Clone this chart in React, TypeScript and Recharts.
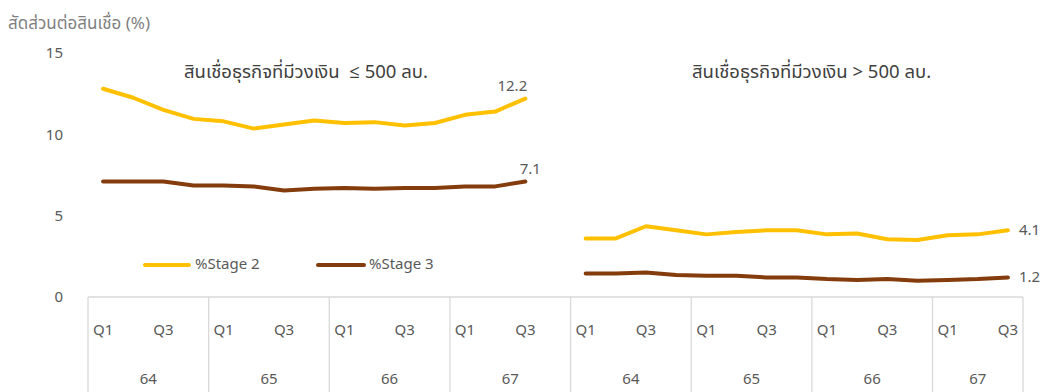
import React from "react";
import { LineChart, Line, XAxis, YAxis, Legend, LabelList } from "recharts";

// ไตรมาส / ปี ของแต่ละจุด (ใช้เหมือนกันทั้งสองกลุ่ม)
const quarters = ["Q1", "Q2", "Q3", "Q4", "Q1", "Q2", "Q3", "Q4", "Q1", "Q2", "Q3", "Q4", "Q1", "Q2", "Q3"];
const years = ["64", "64", "64", "64", "65", "65", "65", "65", "66", "66", "66", "66", "67", "67", "67"];

// วงเงิน <= 500 ลบ.
const smallStage2 = [12.8, 12.25, 11.5, 10.95, 10.8, 10.35, 10.6, 10.85, 10.7, 10.75, 10.55, 10.7, 11.2, 11.4, 12.2];
const smallStage3 = [7.1, 7.1, 7.1, 6.85, 6.85, 6.8, 6.55, 6.65, 6.7, 6.65, 6.7, 6.7, 6.8, 6.8, 7.1];
// วงเงิน > 500 ลบ.
const largeStage2 = [3.6, 3.6, 4.35, 4.1, 3.85, 4.0, 4.1, 4.1, 3.85, 3.9, 3.55, 3.5, 3.8, 3.85, 4.1];
const largeStage3 = [1.45, 1.45, 1.5, 1.35, 1.3, 1.3, 1.2, 1.2, 1.1, 1.05, 1.1, 1.0, 1.05, 1.1, 1.2];

const yTicks = [0, 5, 10, 15];

const YELLOW = "#FFC000";
const BROWN = "#843C0C";
const GRID = "#D9D9D9";
const TEXT = "#595959";
const FONT = "'Noto Sans Thai', 'Leelawadee UI', Tahoma, 'Open Sans', 'Noto Sans', sans-serif";

const W = 1049;
const H = 392;
const LEFT = 88;
const RIGHT = 26;
const SLOTS = 31;
const SLOT = (W - LEFT - RIGHT) / SLOTS;

type Row = {
  key: string;
  panel: string;
  q: string;
  year: string;
  stage2: number | null;
  stage3: number | null;
};

const data: Row[] = [
  ...quarters.map((q, i) => ({
    key: "L" + i,
    panel: "L",
    q,
    year: years[i],
    stage2: smallStage2[i],
    stage3: smallStage3[i],
  })),
  // ช่องว่างระหว่างสองกลุ่ม (Q4/67 ของกลุ่มซ้าย)
  { key: "gap", panel: "L", q: "", year: "67", stage2: null, stage3: null },
  ...quarters.map((q, i) => ({
    key: "R" + i,
    panel: "R",
    q,
    year: years[i],
    stage2: largeStage2[i],
    stage3: largeStage3[i],
  })),
];

const groupSize = (row: Row) =>
  data.filter((d) => d.panel === row.panel && d.year === row.year).length;

const AxisTick = (props: any) => {
  const { x, y, index } = props;
  const row = data[index];
  if (!row) return null;
  const left = x - SLOT / 2;
  return (
    <g>
      {row.q === "Q1" && (
        <>
          <line x1={left} x2={left} y1={y} y2={H} stroke={GRID} strokeWidth={1.3} />
          <text
            x={left + (groupSize(row) * SLOT) / 2}
            y={y + 87}
            textAnchor="middle"
            fill={TEXT}
            fontSize={15}
            fontFamily={FONT}
          >
            {row.year}
          </text>
        </>
      )}
      {index === data.length - 1 && (
        <line x1={x + SLOT / 2} x2={x + SLOT / 2} y1={y} y2={H} stroke={GRID} strokeWidth={1.3} />
      )}
      {(row.q === "Q1" || row.q === "Q3") && (
        <text x={x} y={y + 38} textAnchor="middle" fill={TEXT} fontSize={15} fontFamily={FONT}>
          {row.q}
        </text>
      )}
    </g>
  );
};

const EndLabel = (props: any) => {
  const { x, y, index, value } = props;
  if (value == null) return null;
  const isLeftEnd = index === quarters.length - 1;
  const isRightEnd = index === data.length - 1;
  if (!isLeftEnd && !isRightEnd) return null;
  const txt = Number(value).toFixed(1);
  if (isRightEnd) {
    return (
      <text x={x + 11} y={y + 5} fill={TEXT} fontSize={15} fontFamily={FONT}>
        {txt}
      </text>
    );
  }
  const dx = txt.length > 3 ? -13 : 5;
  return (
    <text x={x + dx} y={y - 8} textAnchor="middle" fill={TEXT} fontSize={15} fontFamily={FONT}>
      {txt}
    </text>
  );
};

const LegendContent = () => (
  <div style={{ display: "flex", alignItems: "center", fontFamily: FONT, fontSize: 15, color: TEXT }}>
    <span style={{ width: 48, height: 4, background: YELLOW, borderRadius: 2, marginRight: 4 }} />
    <span style={{ width: 121 }}>%Stage 2</span>
    <span style={{ width: 50, height: 4, background: BROWN, borderRadius: 2, marginRight: 3 }} />
    <span>%Stage 3</span>
  </div>
);

export default function App() {
  return (
    <div style={{ position: "absolute", left: 0, top: 0, width: W, height: H, background: "#fff" }}>
      <LineChart width={W} height={H} data={data} margin={{ top: 53, right: RIGHT, bottom: 0, left: 0 }}>
        <XAxis
          dataKey="key"
          interval={0}
          height={H - 297}
          padding={{ left: SLOT / 2, right: SLOT / 2 }}
          axisLine={{ stroke: GRID, strokeWidth: 1.3 }}
          tickLine={false}
          tickSize={0}
          tickMargin={0}
          tick={<AxisTick />}
        />
        <YAxis
          width={LEFT}
          domain={[0, 15]}
          ticks={yTicks}
          axisLine={false}
          tickLine={false}
          tickSize={0}
          tickMargin={25}
          tick={{ fill: TEXT, fontSize: 15, fontFamily: FONT }}
        />
        <Legend
          layout="horizontal"
          verticalAlign="middle"
          align="center"
          content={<LegendContent />}
          wrapperStyle={{ left: 143, top: 253, width: "auto", height: 20 }}
        />
        <Line
          dataKey="stage2"
          name="%Stage 2"
          stroke={YELLOW}
          strokeWidth={4}
          strokeLinecap="round"
          strokeLinejoin="round"
          dot={false}
          activeDot={false}
          isAnimationActive={false}
        >
          <LabelList dataKey="stage2" content={<EndLabel />} />
        </Line>
        <Line
          dataKey="stage3"
          name="%Stage 3"
          stroke={BROWN}
          strokeWidth={4}
          strokeLinecap="round"
          strokeLinejoin="round"
          dot={false}
          activeDot={false}
          isAnimationActive={false}
        >
          <LabelList dataKey="stage3" content={<EndLabel />} />
        </Line>
      </LineChart>
      <div
        style={{ position: "absolute", left: 8, top: 11, fontFamily: FONT, fontSize: 17, color: "#7F7F7F", whiteSpace: "nowrap" }}
      >
        สัดส่วนต่อสินเชื่อ (%)
      </div>
      <div
        style={{ position: "absolute", left: 184, top: 58, fontFamily: FONT, fontSize: 18.5, color: "#404040", whiteSpace: "pre" }}
      >
        {"สินเชื่อธุรกิจที่มีวงเงิน  ≤ 500 ลบ."}
      </div>
      <div
        style={{ position: "absolute", left: 692, top: 58, fontFamily: FONT, fontSize: 18.5, color: "#404040", whiteSpace: "pre" }}
      >
        {"สินเชื่อธุรกิจที่มีวงเงิน > 500 ลบ."}
      </div>
    </div>
  );
}
